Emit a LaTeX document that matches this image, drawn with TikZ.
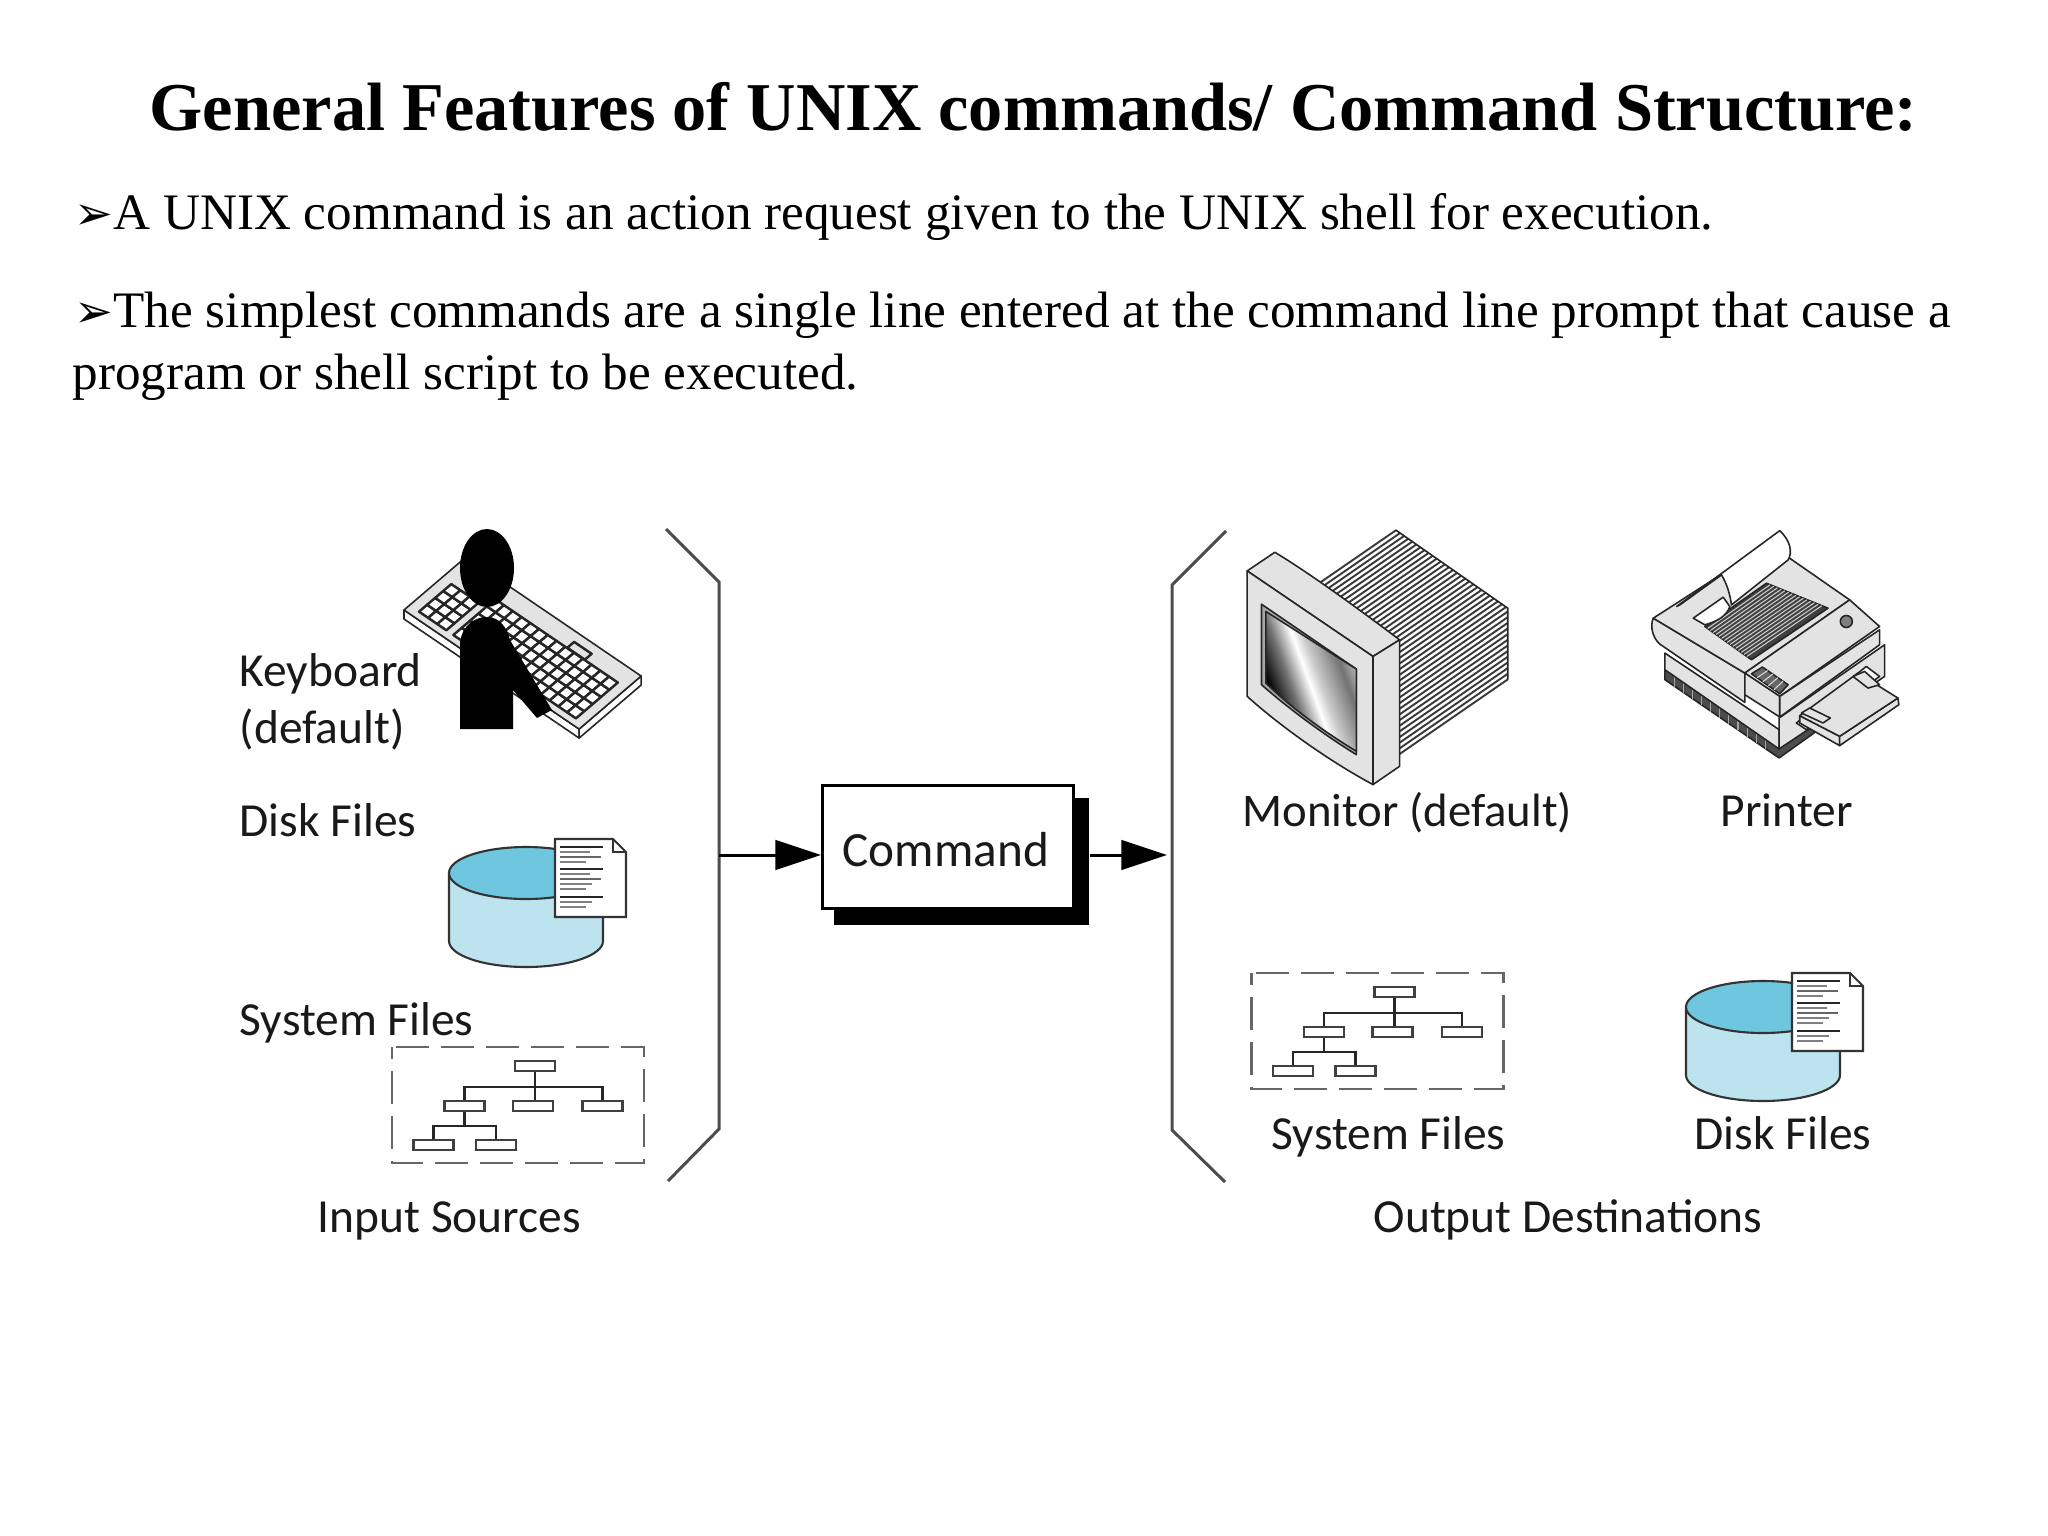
\documentclass[tikz,border=0pt]{standalone}
\usepackage{fontspec}
\setmainfont{Liberation Serif}
\newfontfamily\labelfont{Carlito}
\newfontfamily\markfont{DejaVu Sans}
\usetikzlibrary{arrows.meta}

\definecolor{diskdark}{HTML}{6FC6DF}
\definecolor{disklight}{HTML}{BCE3EE}
\definecolor{plategray}{HTML}{E3E3E3}
\definecolor{ribgray}{HTML}{3A3A3A}

\pgfdeclarehorizontalshading{crtglass}{100bp}{color(0bp)=(black); color(30bp)=(black); color(40bp)=(black!55); color(49bp)=(white); color(54bp)=(black!20); color(66bp)=(black!55); color(76bp)=(black!15); color(100bp)=(black!15)}

\tikzset{
	titletext/.style={anchor=base west,inner sep=0pt,font=\bfseries\fontsize{19.45}{23}\selectfont},
	bodytext/.style={anchor=base west,inner sep=0pt,font=\fontsize{14.55}{17}\selectfont},
	lbl/.style={anchor=base west,inner sep=0pt,text=black!90,font=\labelfont\fontsize{13.5}{16}\selectfont},
	bracket/.style={line width=0.85pt,draw=black!70},
	sysframe/.style={line width=0.8pt,draw=black!60,dash pattern=on 9.4pt off 3.4pt},
	treebox/.style={draw=black!75,line width=0.7pt,fill=white,minimum width=11.4pt,minimum height=2.9pt,inner sep=0pt},
	treeline/.style={line width=0.6pt,draw=black!85},
	diskline/.style={line width=0.6pt,draw=black!80},
	thin part/.style={line width=0.45pt,draw=black!85,line join=round},
	keycap/.style={line width=0.7pt,draw=black!85,fill=white,line join=round},
	plate/.style={thin part,fill=plategray},
	flow/.style={line width=0.85pt,-{Triangle[length=13pt,width=8.4pt]}},
}

\begin{document}
\begin{tikzpicture}[x=0.01cm,y=-0.01cm]

	\useasboundingbox (0,0) rectangle (2048,1536);
	\fill[white] (0,0) rectangle (2048,1536);

	% heading and the text lines
	\node[titletext] (heading) at (149,130) {General Features of UNIX commands/ Command Structure:};
	\node[bodytext] (lineone) at (74,229.5) {{\markfont\bfseries\fontsize{13.2}{14}\selectfont ➢}A UNIX command is an action request given to the UNIX shell for execution.};
	\node[bodytext] (linetwo) at (74,327) {{\markfont\bfseries\fontsize{13.2}{14}\selectfont ➢}The simplest commands are a single line entered at the command line prompt that cause a};
	\node[bodytext] (linethree) at (72,389) {program or shell script to be executed.};

	% brackets
	\draw[bracket] (666,529) -- (719,582) -- (719,1129) -- (668,1181);
	\draw[bracket] (1226,531) -- (1172,585) -- (1172,1130) -- (1225,1182);

	% command box
	\node[fill=black,minimum width=72.4pt,minimum height=36.2pt,inner sep=0pt] (cmdshadow) at (961.5,861.5) {};
	\node[draw=black,fill=white,line width=0.85pt,minimum width=71.4pt,minimum height=35pt,inner sep=0pt] (command) at (948,847) {};
	\node[lbl,font=\labelfont\fontsize{14}{16}\selectfont] (cmdlabel) at (842,866.5) {Command};

	\coordinate (inmark) at (719,855);
	\coordinate (outmark) at (1167,855);
	\draw[flow] (inmark) -- (inmark -| command.west);
	\draw[flow] (cmdshadow.east |- outmark) -- (outmark);

	% keyboard
	\begin{scope}[shift={(404,610)},x={(1.75cm,-1.19cm)},y={(0.62cm,0.53cm)}]
		\draw[thin part,fill=white] (0,0) -- (1,0) -- ([yshift=-0.09cm]1,0) -- ([yshift=-0.09cm]0,0) -- cycle;
		\draw[thin part,fill=white] (1,0) -- (1,1) -- ([yshift=-0.09cm]1,1) -- ([yshift=-0.09cm]1,0) -- cycle;
		\draw[plate] (0,0) -- (1,0) -- (1,1) -- (0,1) -- cycle;
		\foreach \a in {0,...,2}
			\foreach \b in {0,...,3}
				\draw[keycap] ({0.054+\a*0.052},{0.09+\b*0.13}) -- ++(0.052,0) -- ++(0,0.13) -- ++(-0.052,0) -- cycle;
		\foreach \a in {0,...,13}
			\foreach \b in {0,...,4}
				\draw[keycap] ({0.25+\a*0.05},{0.09+\b*0.135}) -- ++(0.05,0) -- ++(0,0.135) -- ++(-0.05,0) -- cycle;
		\draw[thin part,line width=0.7pt] (0.66,0.77) -- ++(0.1,0) -- ++(0,0.11) -- ++(-0.1,0) -- cycle;
	\end{scope}

	% person
	\fill[black] (487,568) ellipse (27 and 39);
	\fill[black] (460,729) -- (460,643) .. controls (462,625) and (475,617) .. (487,617)
		.. controls (500,617) and (507,628) .. (510,640) -- (552,710) -- (537,718) -- (513,690) -- (513,729) -- cycle;

	\node[lbl] (kbdlabel) at (239,686) {Keyboard};
	\node[lbl] (deflabel) at (239,743) {(default)};
	\node[lbl] (disklabelin) at (239,836.5) {Disk Files};
	\node[lbl] (syslabelin) at (239,1035) {System Files};
	\node[lbl] (inputlabel) at (317,1232.5) {Input Sources};

	% the two disks with their page
	\foreach \ox/\oy in {0/0,1237/134}
	{
		\begin{scope}[shift={(\ox,\oy)}]
			\filldraw[diskline,fill=disklight] (449,873) -- (449,941) arc (180:360:77 and -26) -- (603,873) -- cycle;
			\filldraw[diskline,fill=diskdark] (526,873) ellipse (77 and 26);
			\filldraw[diskline,fill=white] (555,839) -- (613,839) -- (626,852) -- (626,917) -- (555,917) -- cycle;
			\draw[diskline] (613,839) -- (613,852) -- (626,852);
			\foreach \ly/\lx/\lc in {847/603/85,852/590/50,857/601/60,862/586/50,869/603/85,874/590/50,879/601/60,884/592/50,889/586/50,897/603/85,902/592/50,907/586/50}
				\draw[line width=0.55pt,draw=black!\lc] (560,\ly) -- (\lx,\ly);
		\end{scope}
	}

	% the two file trees
	\foreach \ox/\oy/\pfx in {0/0/in,859.5/-74/out}
	{
		\begin{scope}[shift={(\ox,\oy)},name prefix=\pfx-]
			\draw[sysframe] (396,1047) -- (644,1047) -- (644,1163) -- (392,1163) -- (392,1047);
			\node[treebox] (root) at (535,1066) {};
			\node[treebox] (mid) at (533,1106) {};
			\node[treebox] (lft) at (464.5,1106) {};
			\node[treebox] (rgt) at (602.5,1106) {};
			\node[treebox] (leafa) at (433.5,1145) {};
			\node[treebox] (leafb) at (496,1145) {};
			\coordinate (busa) at (535,1087);
			\coordinate (busb) at (464.5,1126);
			\draw[treeline] (root.south) -- (root.south |- mid.north);
			\draw[treeline] (lft.north) |- (busa) -| (rgt.north);
			\draw[treeline] (lft.south) -- (busb);
			\draw[treeline] (leafa.north) |- (busb) -| (leafb.north);
		\end{scope}
	}

	\node[lbl] (syslabelout) at (1271,1149) {System Files};
	\node[lbl] (disklabelout) at (1694,1149) {Disk Files};
	\node[lbl,font=\labelfont\fontsize{13.3}{16}\selectfont] (monlabel) at (1242,826) {Monitor (default)};
	\node[lbl] (prnlabel) at (1720,826) {Printer};
	\node[lbl] (outputlabel) at (1373,1232.5) {Output Destinations};

	% monitor
	\begin{scope}[shift={(1160,510)},x=0.00333cm,y=-0.00333cm]
		\fill[white] (475,225) -- (708,60) -- (1045,295) -- (1045,510) -- (720,735) -- (640,440) -- cycle;
		\foreach \c in {550,567,...,1232}
		{
			\pgfmathsetmacro\xl{min((\c+94.7)/1.363,720)}
			\pgfmathsetmacro\xr{min((\c+433.6)/1.387,1045)}
			\draw[line width=0.55pt,draw=ribgray] (\xl,{\c-0.69*\xl}) -- (\xr,{\c-0.69*\xr});
		}
		\draw[thin part] (708,60) -- (1045,295) -- (1045,510);
		\draw[plate] (262,183) -- (345,127) .. controls (450,190) and (600,300) .. (720,390) -- (640,440) -- cycle;
		\draw[plate] (640,440) -- (720,390) -- (720,770) -- (640,825) -- cycle;
		\draw[plate] (262,183) -- (640,440) -- (640,825) .. controls (500,750) and (350,640) .. (262,560) -- cycle;
		\draw[thin part,fill=black!35] (305,283) -- (590,478) -- (590,735) .. controls (500,680) and (390,600) .. (305,525) -- cycle;
		\draw[thin part,shading=crtglass,shading angle=20] (318,305) -- (590,478) -- (590,725) .. controls (500,670) and (400,600) .. (318,520) -- cycle;
	\end{scope}

	% printer
	\begin{scope}[shift={(1620,510)},x=0.00333cm,y=-0.00333cm]
		% foot and lower tier
		\draw[thin part,fill=black!70] (135,470) -- (135,510) -- (478,745) -- (590,665) -- (590,630) -- (478,710) -- cycle;
		\foreach \t in {0.08,0.16,...,0.95}
			\draw[line width=0.3pt,draw=black!35] ({135+\t*343},{480+\t*235}) -- ++(0,32);
		\draw[plate] (135,430) -- (375,590) -- (478,660) -- (478,718) -- (135,480) -- cycle;
		\draw[plate] (478,625) -- (795,405) -- (795,500) -- (580,650) -- (478,718) -- cycle;
		\draw[thin part,fill=white] (530,640) -- (740,470) -- (780,500) -- (560,660) -- cycle;
		% left round body
		\draw[plate] (100,325) .. controls (88,350) and (100,395) .. (130,410) -- (375,578) -- (375,490) -- cycle;
		% top deck
		\draw[plate] (100,325) -- (310,190) -- (510,145) -- (690,270) -- (375,490) -- cycle;
		\draw[thin part,fill=black!75] (255,350) -- (440,220) -- (625,295) -- (395,450) -- cycle;
		\foreach \t in {0.06,0.12,...,0.95}
			\draw[line width=0.3pt,draw=black!20] ({255+\t*140},{350+\t*100}) -- ({440+\t*185},{220+\t*75});
		\draw[thin part,fill=white] (220,325) -- (310,262) -- (330,290) .. controls (320,320) and (290,335) .. (255,345) -- cycle;
		\draw[thin part,fill=white] (170,290) -- (480,62) .. controls (510,90) and (520,125) .. (505,150) -- (335,285) .. controls (330,250) and (320,220) .. (305,195) -- (180,285) -- cycle;
		% control part
		\draw[plate] (375,490) -- (690,270) -- (780,350) -- (480,560) -- cycle;
		\draw[plate] (375,490) -- (480,560) -- (480,622) -- (375,555) -- cycle;
		\draw[plate] (480,560) -- (780,360) -- (780,405) -- (480,622) -- cycle;
		\draw[thin part,fill=black!60] (395,492) -- (428,472) -- (505,525) -- (480,552) -- cycle;
		\foreach \t in {0.2,0.4,0.6,0.8}
			\draw[line width=0.3pt,draw=black!15] ({395+\t*85},{492+\t*60}) -- ({428+\t*77},{472+\t*53});
		\draw[thin part,fill=black!50] (680,335) circle (18);
		% tray
		\draw[plate] (540,618) -- (660,680) -- (660,708) -- (540,640) -- cycle;
		\draw[plate] (660,680) -- (835,565) -- (838,585) -- (660,708) -- cycle;
		\draw[plate] (540,618) -- (715,490) -- (835,565) -- (660,680) -- cycle;
		\draw[plate] (700,500) -- (735,485) -- (780,525) -- (745,535) -- cycle;
		\draw[plate] (545,610) -- (570,595) -- (632,625) -- (610,640) -- cycle;
	\end{scope}

\end{tikzpicture}
\end{document}
